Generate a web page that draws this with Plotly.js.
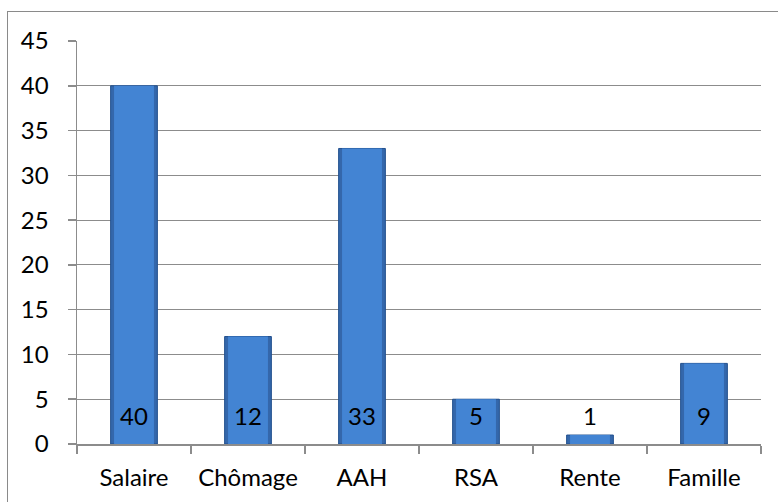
<!DOCTYPE html>
<html>
<head>
<meta charset="utf-8">
<script src="https://cdn.plot.ly/plotly-3.0.1.min.js"></script>
<style>
  body { margin: 0; background: #fff; }
  #wrap { position: relative; width: 778px; height: 502px; overflow: hidden; }
  #chart { position: absolute; left: 0; top: 0; width: 778px; height: 502px; }
  #frame { position: absolute; left: 7px; top: 11px; width: 800px; height: 520px;
           border: 1px solid #8a8a8a; pointer-events: none; }
</style>
</head>
<body>
<div id="wrap">
  <div id="frame"></div>
  <div id="chart"></div>
</div>
<script>
var categories = ['Salaire', 'Chômage', 'AAH', 'RSA', 'Rente', 'Famille'];
var values = [40, 12, 33, 5, 1, 9];
var yTicks = [0, 5, 10, 15, 20, 25, 30, 35, 40, 45];

var FONT = 'Lato, "Open Sans", sans-serif';
var FSIZE = 24;
var GRID = '#8c8c8c';

// dark outer bar + lighter narrower bar on top, to fake the bevelled look
var edgeTrace = {
    type: 'bar',
    x: categories,
    y: values,
    width: 0.41,
    hoverinfo: 'x+y',
    marker: {
        color: '#3467ab',
        line: { color: '#22508e', width: 1 }
    }
};
var bodyTrace = {
    type: 'bar',
    x: categories,
    y: values,
    width: 0.35,
    hoverinfo: 'skip',
    marker: {
        color: '#4384d3',
        line: { width: 0 }
    }
};

// labels sit at the base of each bar, like "inside base" in a spreadsheet
var annotationList = [];
for (var i = 0; i < categories.length; i++) {
    annotationList.push({
        xref: 'x',
        yref: 'y',
        x: categories[i],
        y: 0,
        yanchor: 'bottom',
        yshift: 12,
        text: String(values[i]),
        showarrow: false,
        font: { family: FONT, size: FSIZE, color: '#000' }
    });
}

var layout = {
    width: 778,
    height: 502,
    margin: { l: 77, r: 17, t: 41, b: 58 },
    paper_bgcolor: 'rgba(0,0,0,0)',
    plot_bgcolor: '#fff',
    showlegend: false,
    barmode: 'overlay',
    font: { family: FONT, size: FSIZE, color: '#000' },
    xaxis: {
        type: 'category',
        showgrid: false,
        showline: true,
        linecolor: GRID,
        linewidth: 1.5,
        ticks: 'outside',
        tickson: 'boundaries',
        ticklen: 8,
        tickcolor: GRID,
        tickwidth: 1.5,
        ticklabelstandoff: 12,
        tickfont: { family: FONT, size: FSIZE, color: '#000' }
    },
    yaxis: {
        range: [0, 45],
        tickvals: yTicks,
        showgrid: true,
        gridcolor: GRID,
        gridwidth: 1,
        zeroline: false,
        showline: true,
        linecolor: GRID,
        linewidth: 1.5,
        ticks: 'outside',
        ticklen: 8,
        tickcolor: GRID,
        tickwidth: 1.5,
        ticklabelstandoff: 14,
        tickfont: { family: FONT, size: FSIZE, color: '#000' }
    },
    annotations: annotationList
};

Plotly.newPlot('chart', [edgeTrace, bodyTrace], layout, { displayModeBar: false, staticPlot: true });
</script>
</body>
</html>
